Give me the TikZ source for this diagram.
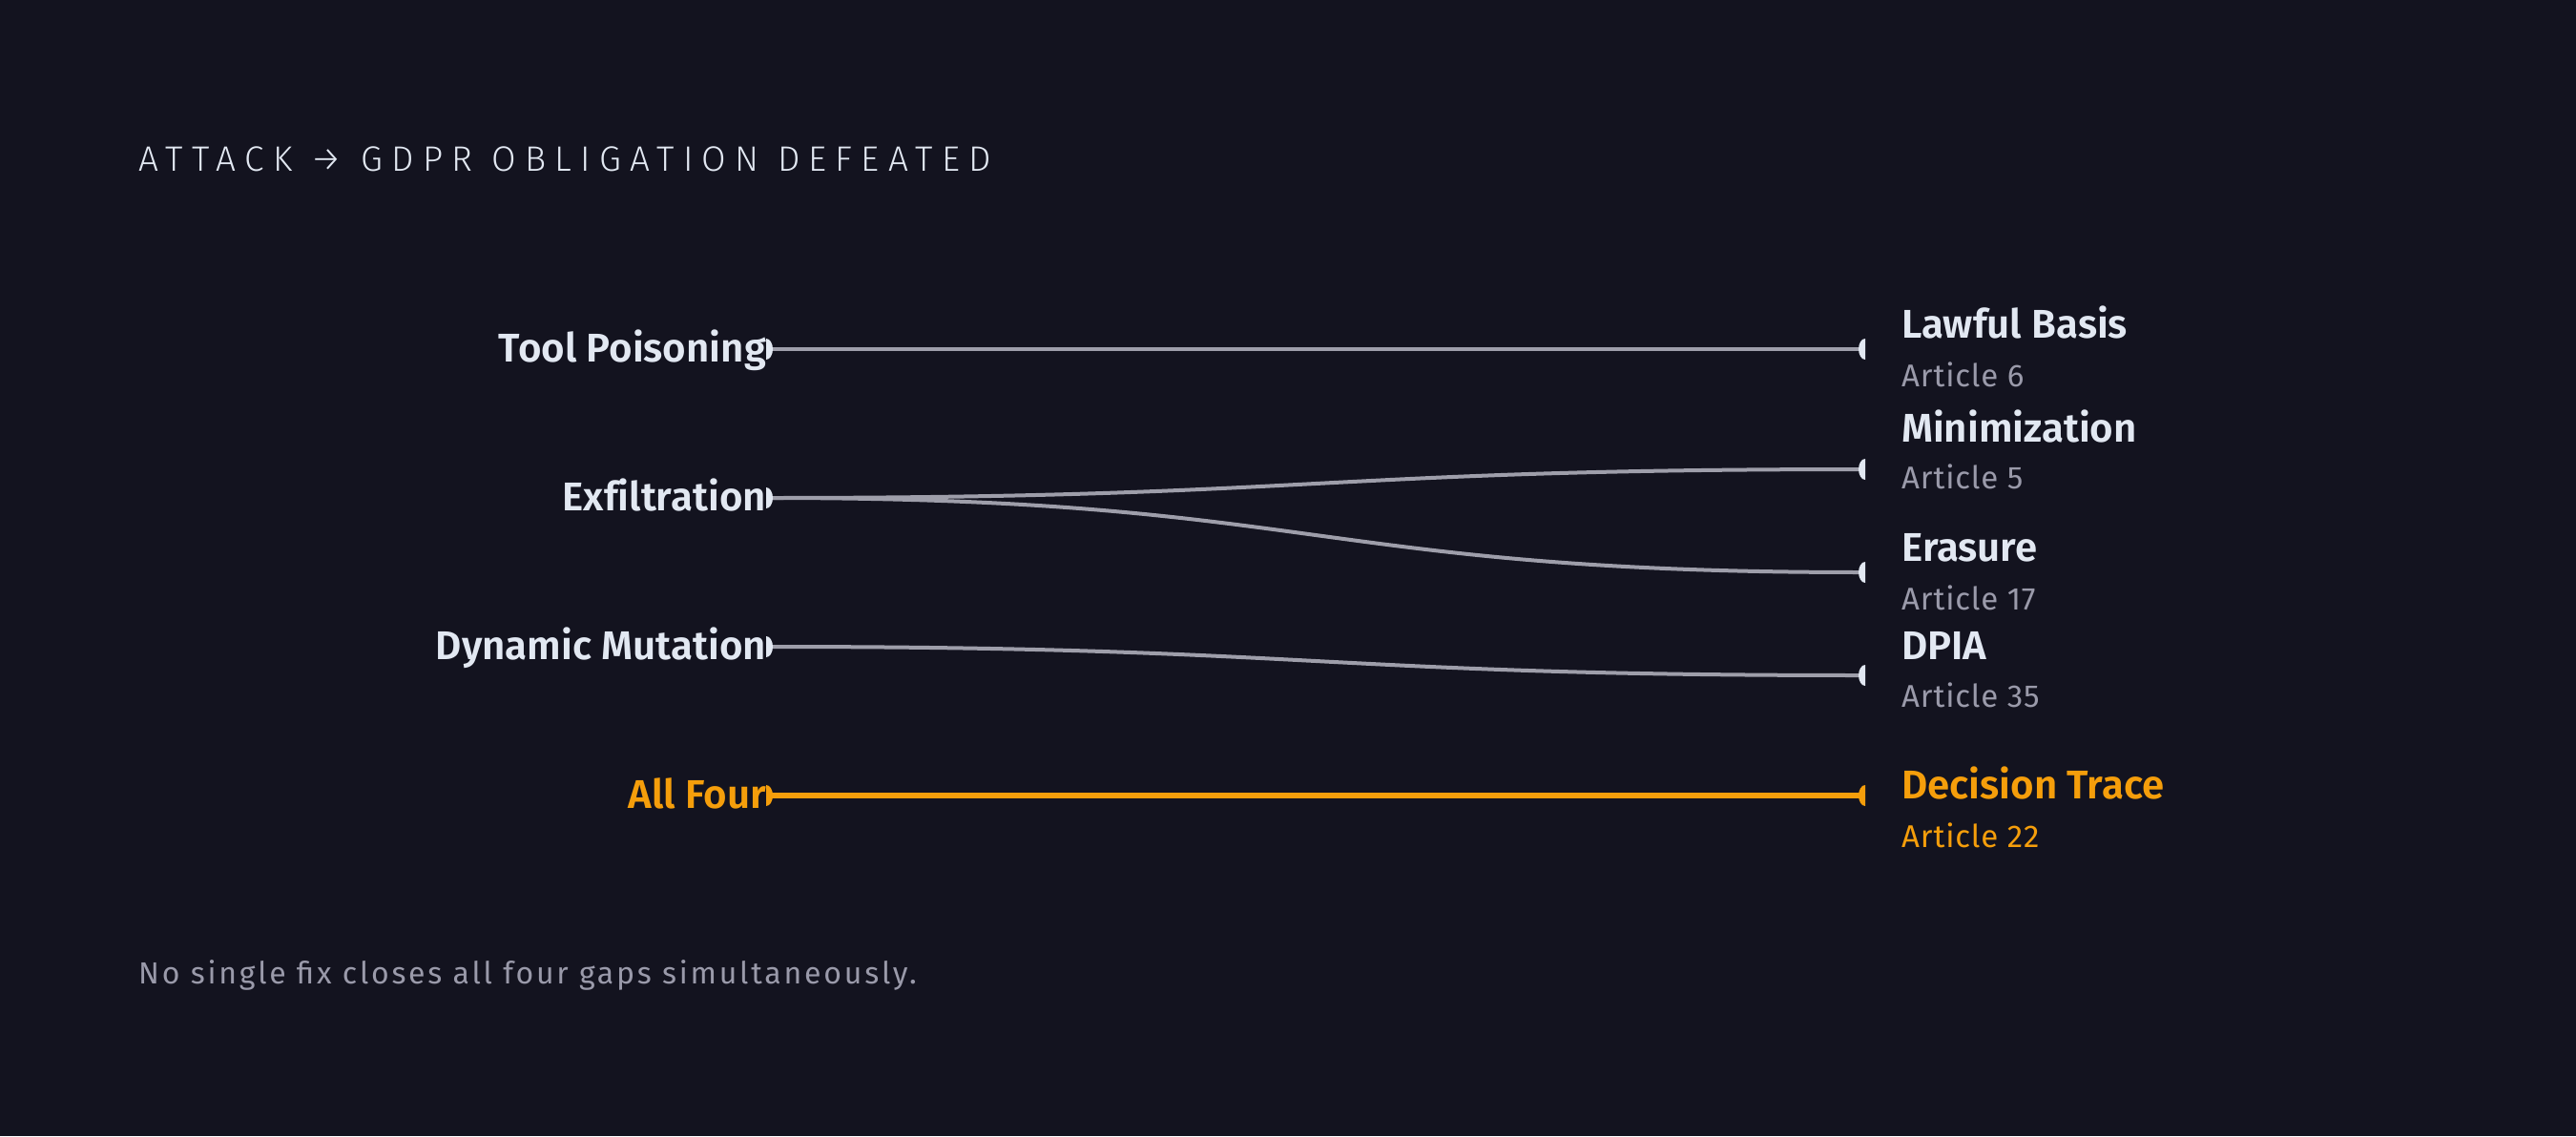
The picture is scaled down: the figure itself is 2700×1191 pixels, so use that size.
\documentclass[tikz,border=0pt]{standalone}
\usepackage{fontspec}
\setmainfont{Fira Sans}[BoldFont=* SemiBold, Ligatures=NoCommon]
\newfontfamily\titlefont{Fira Sans Light}[LetterSpace=25]
\newfontfamily\notefont{Fira Sans}[LetterSpace=8.7]
\newfontfamily\artfont{Fira Sans}[LetterSpace=2.5]
\usetikzlibrary{positioning}
\usetikzlibrary{calc}
\definecolor{cbg}{RGB}{19,19,31}
\definecolor{ctx}{RGB}{226,232,242}
\definecolor{cgr}{RGB}{154,154,170}
\definecolor{cln}{RGB}{158,158,170}
\definecolor{cor}{RGB}{245,158,11}
\tikzstyle{title}=[ctx, anchor=base west, inner sep=0pt, font=\titlefont\fontsize{37}{44}\selectfont]
\tikzstyle{attack}=[ctx, anchor=base east, inner sep=0pt, font=\bfseries\fontsize{42}{50}\selectfont]
\tikzstyle{duty}=[ctx, anchor=base west, inner sep=0pt, font=\bfseries\fontsize{42}{50}\selectfont]
\tikzstyle{article}=[cgr, anchor=base west, inner sep=0pt, font=\artfont\fontsize{33}{40}\selectfont]
\tikzstyle{note}=[cgr, anchor=base west, inner sep=0pt, font=\notefont\fontsize{32}{38}\selectfont]
\tikzstyle{link}=[cln, line width=4pt]
\tikzstyle{hot}=[cor, text=cor]
\tikzstyle{hotlink}=[cor, line width=5.5pt]
\tikzstyle{dot}=[ctx]
\newcommand{\pinl}[2][dot]{\fill[#1] ($(#2)+(-3,-11)$) arc[start angle=-90, end angle=90, x radius=7, y radius=11] -- cycle;}
\newcommand{\pinr}[2][dot]{\fill[#1] ($(#2)+(3,-11)$) arc[start angle=270, end angle=90, x radius=7, y radius=11] -- cycle;}

\begin{document}
\begin{tikzpicture}[x=1pt, y=-1pt]
  \fill [cbg] (0,0) rectangle (2700,1191);
  \useasboundingbox (0,0) rectangle (2700,1191);

  \node [title] (head) at (145,179) {ATTACK → GDPR OBLIGATION DEFEATED};

  % attacks
  \node [attack] (tool) at (803,379) {Tool Poisoning};
  \node [attack] (exfil) at (803,535) {Exfiltration};
  \node [attack] (mut) at (803,691) {Dynamic Mutation};
  \node [attack, hot] (four) at (803,847) {All Four};

  % obligations
  \node [duty] (lawful) at (1993,354) {Lawful Basis};
  \node [article] (art6) at (1993,405) {Article 6};
  \node [duty] (minim) at (1993,463) {Minimization};
  \node [article] (art5) at (1993,512) {Article 5};
  \node [duty] (erase) at (1993,588) {Erasure};
  \node [article] (art17) at (1993,639) {Article 17};
  \node [duty] (dpia) at (1993,691) {DPIA};
  \node [article] (art35) at (1993,741) {Article 35};
  \node [duty, hot] (trace) at (1993,837) {Decision Trace};
  \node [article, hot] (art22) at (1993,888) {Article 22};

  \coordinate (tool-r) at (806,366);
  \coordinate (exfil-r) at (806,522);
  \coordinate (mut-r) at (806,678);
  \coordinate (four-r) at (806,834);
  \coordinate (lawful-l) at (1952,366);
  \coordinate (minim-l) at (1952,492);
  \coordinate (erase-l) at (1952,600);
  \coordinate (dpia-l) at (1952,708);
  \coordinate (trace-l) at (1952,834);

  \draw [link] (tool-r) -- (lawful-l);
  \draw [link] (exfil-r) .. controls +(573,0) and +(-573,0) .. (minim-l);
  \draw [link] (exfil-r) .. controls +(573,0) and +(-573,0) .. (erase-l);
  \draw [link] (mut-r) .. controls +(573,0) and +(-573,0) .. (dpia-l);
  \draw [hotlink] (four-r) -- (trace-l);

  \pinl{tool-r} \pinl{exfil-r} \pinl{mut-r} \pinl[cor]{four-r}
  \pinr{lawful-l} \pinr{minim-l} \pinr{erase-l} \pinr{dpia-l} \pinr[cor]{trace-l}

  \node [note] (foot) at (145,1031) {No single fix closes all four gaps simultaneously.};
\end{tikzpicture}
\end{document}
